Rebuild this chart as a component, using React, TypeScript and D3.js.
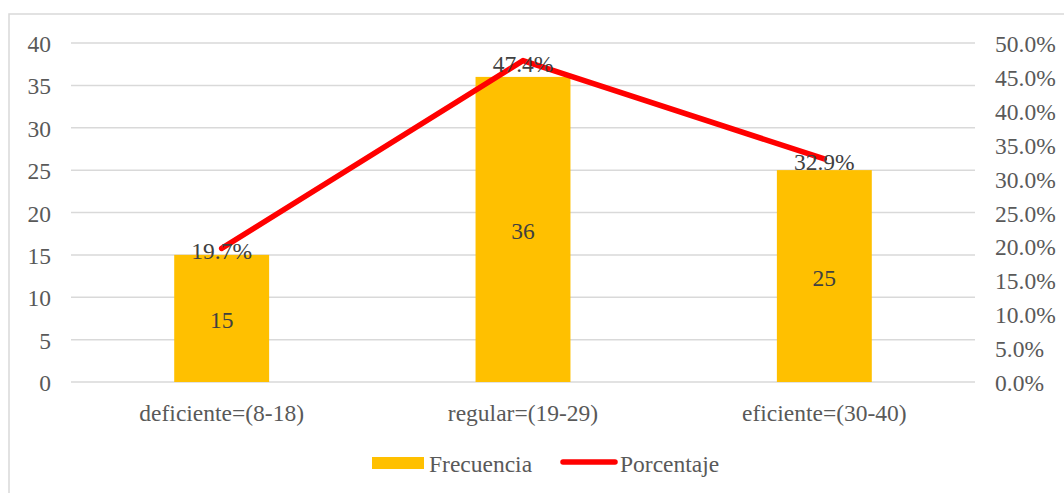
import * as d3 from "d3";

const WIDTH = 1064;
const HEIGHT = 493;
const PLOT = { left: 71, right: 975, top: 43, bottom: 382 };
const FONT = "Liberation Serif, Times New Roman, DejaVu Serif, serif";
const FS = 23.5;

const CATEGORIES = ["deficiente=(8-18)", "regular=(19-29)", "eficiente=(30-40)"];
const FRECUENCIA = [15, 36, 25];
const PORCENTAJE = [19.7, 47.4, 32.9];
const LEFT_TICKS = [0, 5, 10, 15, 20, 25, 30, 35, 40];
const RIGHT_TICKS = [0, 5, 10, 15, 20, 25, 30, 35, 40, 45, 50];

export default function App() {
  const x = d3
    .scaleBand()
    .domain(CATEGORIES)
    .range([PLOT.left, PLOT.right])
    .padding(0);
  const barW = x.bandwidth() * 0.315;
  const yL = d3.scaleLinear().domain([0, 40]).range([PLOT.bottom, PLOT.top]);
  const yR = d3.scaleLinear().domain([0, 50]).range([PLOT.bottom, PLOT.top]);
  const cx = (c: string) => (x(c) ?? 0) + x.bandwidth() / 2;

  const line = d3
    .line<number>()
    .x((_, i) => cx(CATEGORIES[i]))
    .y((d) => yR(d));

  const txt = { fontFamily: FONT, fontSize: FS };

  return (
    <svg
      width={WIDTH}
      height={HEIGHT}
      style={{ position: "absolute", left: 0, top: 0, background: "#fff", fontFamily: FONT }}
    >
      <rect x={9} y={14} width={1100} height={500} fill="#fff" stroke="#d9d9d9" strokeWidth={1.5} />

      {LEFT_TICKS.map((t) => (
        <g key={t}>
          <line x1={PLOT.left} x2={PLOT.right} y1={yL(t)} y2={yL(t)} stroke="#d9d9d9" strokeWidth={1.5} />
          <text x={51} y={yL(t) + 1} textAnchor="end" dominantBaseline="central" style={txt} fill="#595959">
            {t}
          </text>
        </g>
      ))}
      {RIGHT_TICKS.map((t) => (
        <text key={t} x={995} y={yR(t) + 1} dominantBaseline="central" style={txt} fill="#595959">
          {t.toFixed(1)}%
        </text>
      ))}

      {CATEGORIES.map((c, i) => (
        <g key={c}>
          <rect
            x={cx(c) - barW / 2}
            y={yL(FRECUENCIA[i])}
            width={barW}
            height={PLOT.bottom - yL(FRECUENCIA[i])}
            fill="#FFC000"
          />
          <text
            x={cx(c)}
            y={(yL(FRECUENCIA[i]) + PLOT.bottom) / 2 + 2}
            textAnchor="middle"
            dominantBaseline="central"
            style={txt}
            fill="#404040"
          >
            {FRECUENCIA[i]}
          </text>
          <text x={cx(c)} y={413} textAnchor="middle" dominantBaseline="central" style={txt} fill="#595959">
            {c}
          </text>
        </g>
      ))}

      <path
        d={line(PORCENTAJE) ?? ""}
        fill="none"
        stroke="#FF0000"
        strokeWidth={5.5}
        strokeLinejoin="round"
        strokeLinecap="round"
      />
      {CATEGORIES.map((c, i) => (
        <text
          key={c}
          x={cx(c)}
          y={yR(PORCENTAJE[i]) + 3}
          textAnchor="middle"
          dominantBaseline="central"
          style={txt}
          fill="#404040"
        >
          {PORCENTAJE[i].toFixed(1)}%
        </text>
      ))}

      <g>
        <rect x={372} y={457} width={52} height={12} fill="#FFC000" />
        <text x={429} y={464} dominantBaseline="central" style={txt} fill="#595959">
          Frecuencia
        </text>
        <line x1={563} x2={615} y1={462} y2={462} stroke="#FF0000" strokeWidth={5.5} strokeLinecap="round" />
        <text x={620} y={464} dominantBaseline="central" style={txt} fill="#595959">
          Porcentaje
        </text>
      </g>
    </svg>
  );
}
